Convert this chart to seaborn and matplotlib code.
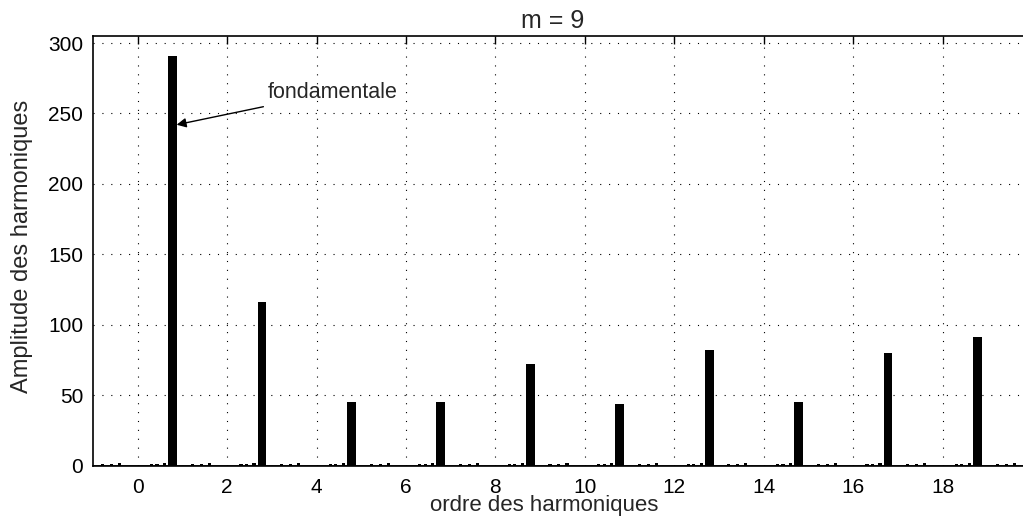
import matplotlib
matplotlib.use("Agg")
import matplotlib.pyplot as plt
import seaborn as sns
import pandas as pd

# ---- data ----
harm_x = [0.78, 2.78, 4.78, 6.78, 8.78, 10.78, 12.78, 14.78, 16.78, 18.78]
harm_amp = [291, 116, 45, 45, 72, 44, 82, 45, 80, 91]

bump_x = [-0.78, -0.58, -0.40, 0.31, 0.43, 0.60,
          1.22, 1.42, 1.60, 2.31, 2.43, 2.60,
          3.22, 3.42, 3.60, 4.31, 4.43, 4.60,
          5.22, 5.42, 5.60, 6.31, 6.43, 6.60,
          7.22, 7.42, 7.60, 8.31, 8.43, 8.60,
          9.22, 9.42, 9.60, 10.31, 10.43, 10.60,
          11.22, 11.42, 11.60, 12.31, 12.43, 12.60,
          13.22, 13.42, 13.60, 14.31, 14.43, 14.60,
          15.22, 15.42, 15.60, 16.31, 16.43, 16.60,
          17.22, 17.42, 17.60, 18.31, 18.43, 18.60,
          19.22, 19.42, 19.60]
bump_amp = [1.5, 1.0, 2.0, 1.5, 1.0, 2.0] * 10 + [1.5, 1.0, 2.0]

x_ticks = [0, 2, 4, 6, 8, 10, 12, 14, 16, 18]
y_ticks = [0, 50, 100, 150, 200, 250, 300]

title = "m = 9"
x_label = "ordre des harmoniques"
y_label = "Amplitude des harmoniques"
annot_text = "fondamentale"

# ---- style ----
sns.set_style("white")
plt.rcParams["font.family"] = ["Liberation Sans", "DejaVu Sans"]
FS = 15

W, H = 1023, 519
fig = plt.figure(figsize=(W / 100, H / 100), dpi=100)
ax = fig.add_axes([93 / W, 53.3 / H, 939 / W, 429.7 / H])

df = pd.DataFrame({"x": harm_x, "amp": harm_amp})
sns.barplot(data=df, x="x", y="amp", native_scale=True, width=0.1,
            color="black", saturation=1, errorbar=None, ax=ax,
            edgecolor="black", linewidth=0)
ax.bar(bump_x, bump_amp, width=0.07, color="black", linewidth=0)
ax.axhline(0, color="black", lw=1.2, zorder=3)

ax.set_xlim(-1, 20)
ax.set_ylim(0, 305)
ax.set_xticks(x_ticks)
ax.set_xticklabels([str(t) for t in x_ticks], fontsize=FS)
ax.set_yticks(y_ticks)
ax.set_yticklabels([str(t) for t in y_ticks], fontsize=FS)
ax.tick_params(direction="in", length=6, width=1, top=True, right=True,
               color="black", labelcolor="black")
ax.tick_params(axis="y", pad=7)
ax.tick_params(axis="x", pad=8.5)

ax.grid(True, color="black", linestyle=(0, (1, 7)), linewidth=0.8)
ax.set_axisbelow(True)
for s in ax.spines.values():
    s.set_color("black")
    s.set_linewidth(1.2)

ax.set_title(title, fontsize=18, x=0.49, pad=6)
ax.set_xlabel(x_label, fontsize=16)
ax.xaxis.label.set_va("baseline")
ax.xaxis.set_label_coords(0.48, -0.105)
ax.set_ylabel(y_label, fontsize=17)
ax.yaxis.set_label_coords(-0.064, 0.51)

ax.annotate(annot_text, xy=(0.87, 242), xytext=(2.9, 265),
            fontsize=FS + 0.5, ha="left", va="center",
            arrowprops=dict(arrowstyle="-|>", color="black", lw=1,
                            mutation_scale=14, shrinkA=2, shrinkB=0))

fig.savefig("out.png", dpi=100)
